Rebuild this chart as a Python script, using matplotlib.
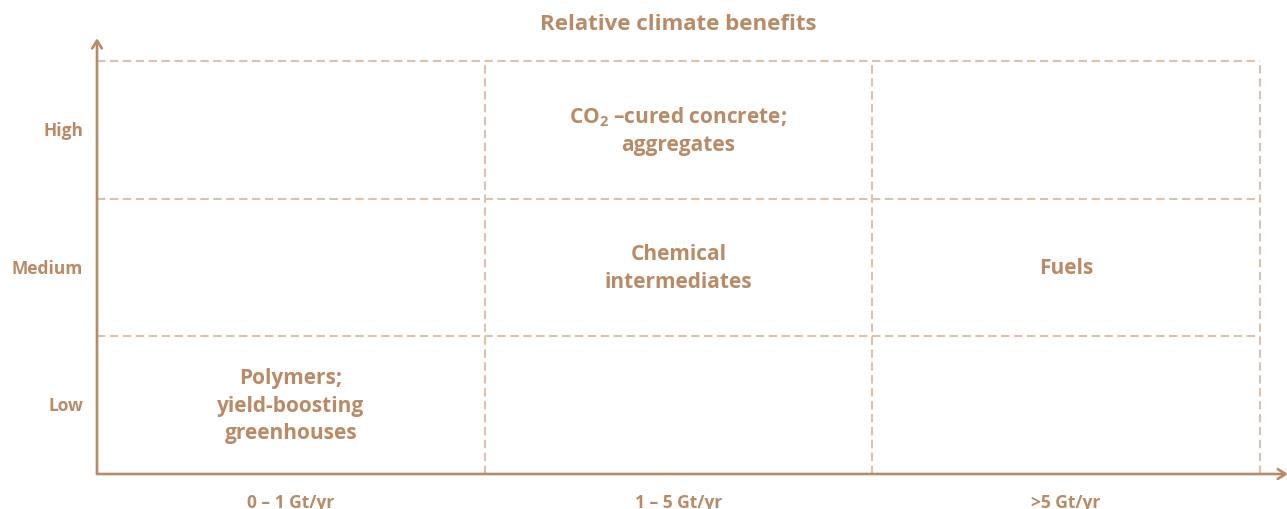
import matplotlib
matplotlib.use("Agg")
import matplotlib.pyplot as plt

# ---- data ----
x_categories = ["0 – 1 Gt/yr", "1 – 5 Gt/yr", ">5 Gt/yr"]
y_categories = ["Low", "Medium", "High"]
title = "Relative climate benefits"
cell_labels = ["Polymers;\nyield-boosting\ngreenhouses",
               "Chemical\nintermediates",
               "CO$_{2}$ –cured concrete;\naggregates",
               "Fuels"]
cell_x = [0, 1, 1, 2]   # column index
cell_y = [0, 1, 2, 1]   # row index

AXIS_C = "#b98a66"
GRID_C = "#dcc2ad"
TEXT_C = "#b98a66"
FONT = "Open Sans"

plt.rcParams["mathtext.fontset"] = "custom"
plt.rcParams["mathtext.rm"] = "Open Sans:bold"
plt.rcParams["mathtext.it"] = "Open Sans:bold"
plt.rcParams["mathtext.bf"] = "Open Sans:bold"

W, H = 1287, 510
fig = plt.figure(figsize=(W / 100, H / 100), dpi=100)
x0, x1 = 97, 1260
y0, y1 = 475, 62
ax = fig.add_axes([x0 / W, (H - y0) / H, (x1 - x0) / W, (y0 - y1) / H])
ax.set_xlim(0, len(x_categories))
ax.set_ylim(0, len(y_categories))
ax.axis("off")

dash = (0, (4, 2.2))
lw = 1.5
# dashed grid
for i in range(1, len(x_categories) + 1):
    ax.plot([i, i], [0, len(y_categories)], color=GRID_C, lw=lw, ls=dash,
            clip_on=False, dash_capstyle="butt")
for j in range(1, len(y_categories) + 1):
    ax.plot([0, len(x_categories)], [j, j], color=GRID_C, lw=lw, ls=dash,
            clip_on=False, dash_capstyle="butt")

# axes arrows
ax.annotate("", xy=(0, len(y_categories) + 0.165), xytext=(0, 0),
            arrowprops=dict(arrowstyle="->,head_length=0.55,head_width=0.35",
                            color=AXIS_C, lw=1.9, shrinkA=0, shrinkB=0),
            annotation_clip=False)
ax.annotate("", xy=(len(x_categories) + 0.072, 0), xytext=(0, 0),
            arrowprops=dict(arrowstyle="->,head_length=0.55,head_width=0.35",
                            color=AXIS_C, lw=1.9, shrinkA=0, shrinkB=0),
            annotation_clip=False)

# tick labels
for j, lab in enumerate(y_categories):
    ax.text(-0.036, j + 0.5, lab, ha="right", va="center", color=TEXT_C,
            fontsize=12.5, fontweight="bold", family=FONT)
for i, lab in enumerate(x_categories):
    ax.text(i + 0.5, -0.138, lab, ha="center", va="top", color=TEXT_C,
            fontsize=12.5, fontweight="bold", family=FONT)

# cell labels
for cx, cy, lab in zip(cell_x, cell_y, cell_labels):
    ax.text(cx + 0.5, cy + 0.5, lab, ha="center", va="center", color=TEXT_C,
            fontsize=15, fontweight="bold", family=FONT, linespacing=1.4)

fig.text(678 / W, 1 - 25 / H, title, ha="center", va="center", color=TEXT_C,
         fontsize=16, fontweight="bold", family=FONT)

fig.savefig("out.png", dpi=100, facecolor="white")
